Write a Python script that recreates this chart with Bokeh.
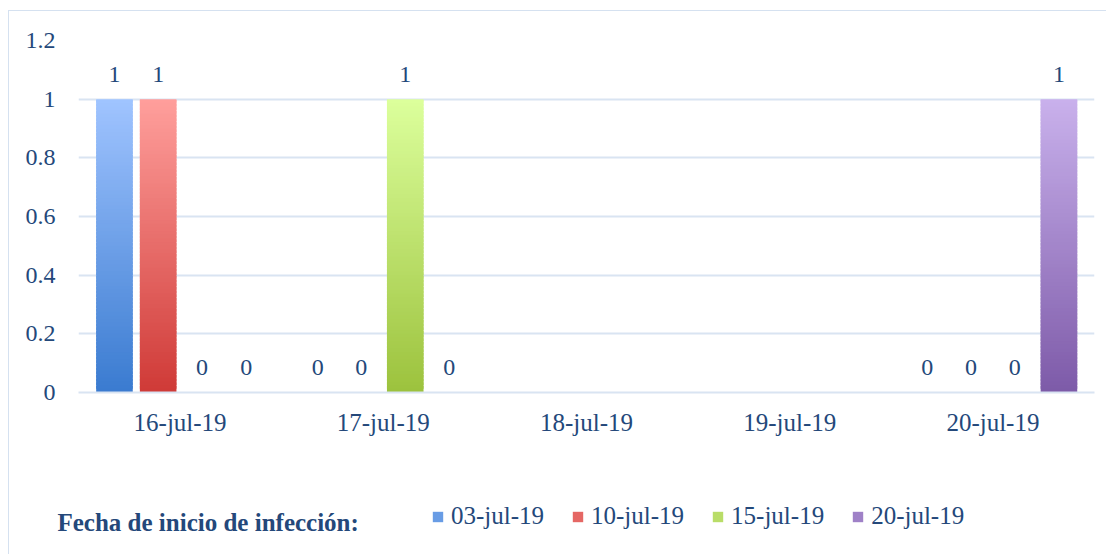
import numpy as np
from bokeh.plotting import figure
from bokeh.models import (ColumnDataSource, FactorRange, Range1d, Legend, LegendItem,
                          Label, NumeralTickFormatter, FixedTicker)
from bokeh.transform import dodge
from bokeh.embed import file_html
from bokeh.resources import INLINE
from bokeh.core.properties import value

# ---------------- data ----------------
categories = ["16-jul-19", "17-jul-19", "18-jul-19", "19-jul-19", "20-jul-19"]
series = ["03-jul-19", "10-jul-19", "15-jul-19", "20-jul-19"]
nan = float("nan")
vals_03jul = [1, 0, nan, nan, 0]
vals_10jul = [1, 0, nan, nan, 0]
vals_15jul = [0, 1, nan, nan, 0]
vals_20jul = [0, 0, nan, nan, 1]
series_values = [vals_03jul, vals_10jul, vals_15jul, vals_20jul]
y_ticks = [0, 0.2, 0.4, 0.6, 0.8, 1.0, 1.2]
legend_title = "Fecha de inicio de infección:"

# ---------------- style ----------------
colors_top = ["#a0c4ff", "#ff9f9c", "#dcff9c", "#c9b1ec"]
colors_bottom = ["#3a7bd0", "#cf3a37", "#9cc23d", "#7d5aa8"]
offsets = [-0.323, -0.108, 0.108, 0.325]
bar_w = 0.18
text_color = "#24487a"
grid_color = "#d9e4f2"
border_color = "#d5e1f0"
FONT = "Liberation Serif"
N_SLICES = 80
W = 1098


def hex2rgb(h):
    h = h.lstrip("#")
    return np.array([int(h[i:i + 2], 16) for i in (0, 2, 4)], dtype=float)


def mix(c1, c2, t):
    a, b = hex2rgb(c1), hex2rgb(c2)
    c = a + (b - a) * t
    return "#%02x%02x%02x" % tuple(int(round(v)) for v in c)


# ---------------- main chart ----------------
p = figure(x_range=FactorRange(*categories), y_range=Range1d(0, 1.2),
           width=W, height=441, output_backend="svg", toolbar_location=None,
           min_border_left=69, min_border_right=13, min_border_top=29,
           min_border_bottom=60,
           styles={"margin-left": "8px", "margin-top": "10px",
                   "border-left": "1px solid " + border_color,
                   "border-top": "1px solid " + border_color})
p.outline_line_color = None
p.background_fill_color = "white"
p.border_fill_color = "white"

p.xgrid.grid_line_color = None
p.ygrid.grid_line_color = grid_color
p.ygrid.grid_line_width = 2
p.yaxis.ticker = FixedTicker(ticks=y_ticks)
p.yaxis.formatter = NumeralTickFormatter(format="0.[0]")
p.yaxis.axis_line_color = None
p.xaxis.axis_line_color = grid_color
p.xaxis.axis_line_width = 2
for ax in (p.xaxis, p.yaxis):
    ax.major_tick_line_color = None
    ax.minor_tick_line_color = None
    ax.major_tick_out = 0
    ax.major_tick_in = 0
    ax.major_label_text_font = FONT
    ax.major_label_text_color = text_color
p.yaxis.major_label_standoff = 23
p.yaxis.major_label_text_font_size = "24px"
p.xaxis.major_label_standoff = 16
p.xaxis.major_label_text_font_size = "25px"

for si, (name, vals) in enumerate(zip(series, series_values)):
    xs, bots, tops, cols = [], [], [], []
    for cat, v in zip(categories, vals):
        if np.isnan(v) or v == 0:
            continue
        for k in range(N_SLICES):
            t = (k + 0.5) / N_SLICES
            xs.append(cat)
            bots.append(v * k / N_SLICES)
            tops.append(v * min(k + 1.8, N_SLICES) / N_SLICES)
            cols.append(mix(colors_bottom[si], colors_top[si], t))
    src = ColumnDataSource(dict(x=xs, bottom=bots, top=tops, color=cols))
    p.vbar(x=dodge("x", offsets[si], range=p.x_range), bottom="bottom", top="top",
           width=bar_w, fill_color="color", line_color=None, source=src)

    lx, ly, lt = [], [], []
    for cat, v in zip(categories, vals):
        if np.isnan(v):
            continue
        lx.append(cat)
        ly.append(v)
        lt.append("%g" % v)
    lsrc = ColumnDataSource(dict(x=lx, y=ly, t=lt))
    p.text(x=dodge("x", offsets[si], range=p.x_range), y="y", text="t", source=lsrc,
           text_align="center", text_baseline="middle", y_offset=-25,
           text_font=value(FONT), text_font_size="24px", text_color=text_color)

# ---------------- legend strip (separate root, so its frame is not aligned) ----------------
H2 = 103
p2 = figure(x_range=Range1d(0, W), y_range=Range1d(H2, 0), width=W, height=H2,
            output_backend="svg", toolbar_location=None,
            x_axis_type=None, y_axis_type=None,
            min_border_left=0, min_border_right=0, min_border_top=0,
            min_border_bottom=0,
            styles={"margin-left": "8px",
                    "border-left": "1px solid " + border_color})
p2.grid.visible = False
p2.outline_line_color = None
p2.border_fill_color = "white"

items = []
for si, name in enumerate(series):
    r = p2.vbar(x=[0], top=[0], bottom=[0], width=0,
                fill_color=mix(colors_bottom[si], colors_top[si], 0.45),
                line_color=None)
    items.append(LegendItem(label=name, renderers=[r]))

legend = Legend(items=items, orientation="horizontal", location=(422, 24),
                glyph_width=13, glyph_height=13, label_standoff=7, spacing=27,
                padding=0, margin=0, border_line_color=None,
                background_fill_alpha=0,
                label_text_font=FONT, label_text_font_size="25px",
                label_text_color=text_color)
p2.add_layout(legend, "center")

p2.add_layout(Label(x=48, y=71, text=legend_title, text_font=FONT,
                    text_font_size="25px", text_font_style="bold",
                    text_color=text_color, text_baseline="middle"))

open("out.html", "w").write(file_html([p, p2], INLINE))
